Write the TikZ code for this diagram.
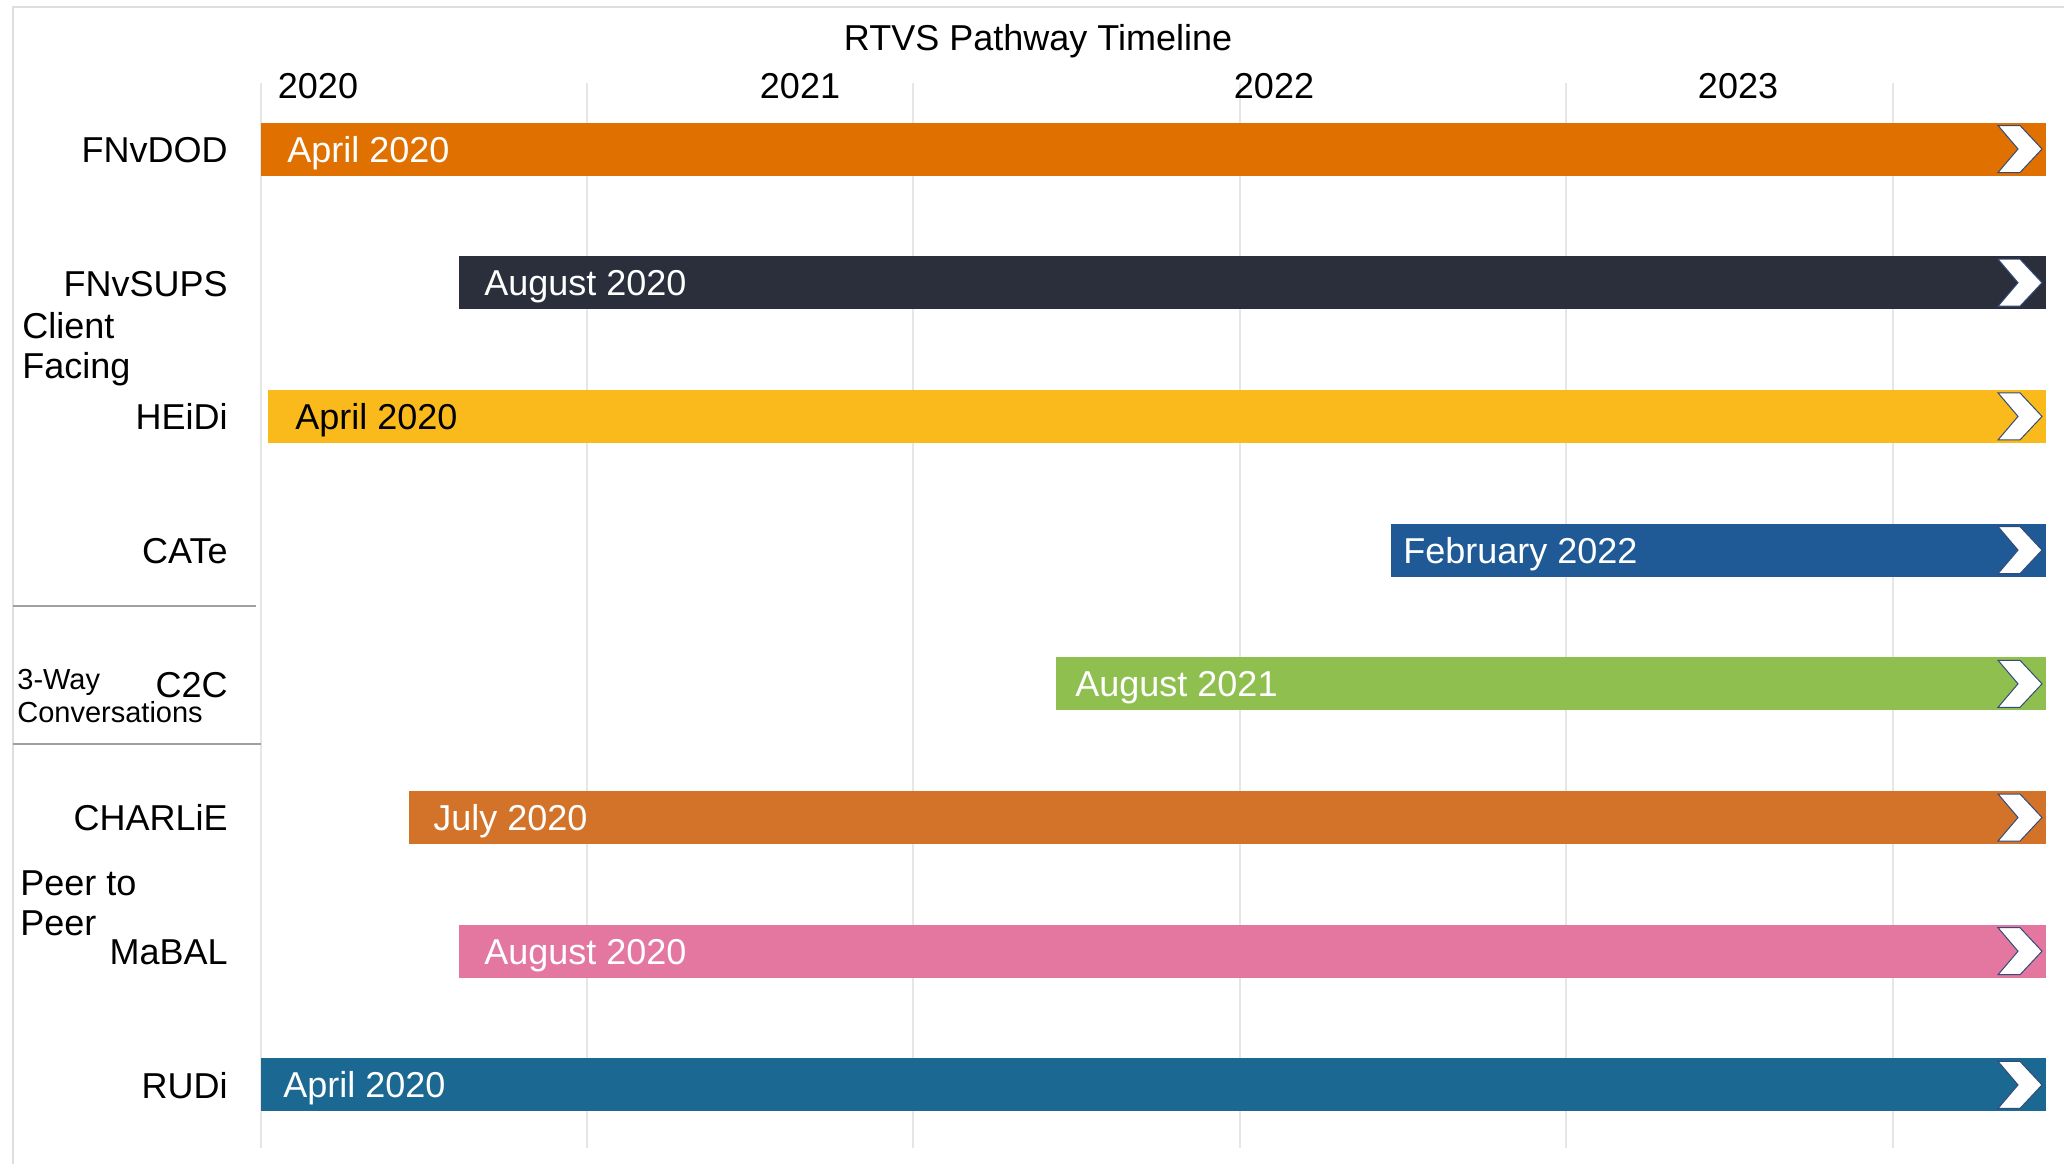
\documentclass[tikz,border=0pt]{standalone}
\usepackage{fontspec}
\setmainfont{Liberation Sans}
\definecolor{cDOD}{RGB}{224,112,0}
\definecolor{cSUPS}{RGB}{42,47,59}
\definecolor{cHEI}{RGB}{251,186,28}
\definecolor{cCAT}{RGB}{31,90,150}
\definecolor{cC2C}{RGB}{143,191,78}
\definecolor{cCHA}{RGB}{211,115,42}
\definecolor{cMAB}{RGB}{228,119,160}
\definecolor{cRUD}{RGB}{27,104,147}
\definecolor{cGrid}{RGB}{230,230,230}
\definecolor{cFrame}{RGB}{222,222,222}
\definecolor{cSep}{RGB}{160,160,160}
\definecolor{cChevLine}{RGB}{50,75,120}
\newcommand\tlchev[1]{\draw[chev] (1998,#1-23.5) -- (2020,#1-23.5) -- (2042,#1) -- (2020,#1+23.5) -- (1998,#1+23.5) -- (2018,#1) -- cycle;}
\begin{document}
\begin{tikzpicture}[x=0.5pt,y=-0.5pt,
  every node/.style={font=\fontsize{18}{22}\selectfont, inner sep=0pt},
  barbox/.style={rectangle, anchor=west, minimum height=26.5pt},
  barlabel/.style={anchor=base west, text=white},
  rowlabel/.style={anchor=base east, text=black},
  sidelabel/.style={anchor=base west, text=black},
  gridline/.style={draw=cGrid, line width=1pt},
  sepline/.style={draw=cSep, line width=1pt},
  chev/.style={fill=white, draw=cChevLine, line width=0.5pt, line join=miter}]
\useasboundingbox (0,0) rectangle (2064,1164);
% frame
\draw[cFrame, line width=1pt] (13,1164) -- (13,7) -- (2064,7);
% grid
\foreach \gx in {261,587,913,1240,1566,1893} {\draw[gridline] (\gx,83) -- (\gx,1148);}
% title and years
\node (title) at (1038,41) {RTVS Pathway Timeline};
\node[anchor=base] (y2020) at (318,98) {2020};
\node[anchor=base] (y2021) at (800,98) {2021};
\node[anchor=base] (y2022) at (1274,98) {2022};
\node[anchor=base] (y2023) at (1738,98) {2023};
% separators
\draw[sepline] (13,606) -- (256,606);
\draw[sepline] (13,744) -- (261,744);
% row labels
\node[rowlabel] (lDOD) at (228,162) {FNvDOD};
\node[rowlabel] (lSUPS) at (228,296) {FNvSUPS};
\node[rowlabel] (lHEI) at (228,429) {HEiDi};
\node[rowlabel] (lCAT) at (228,563) {CATe};
\node[rowlabel] (lC2C) at (228,697) {C2C};
\node[rowlabel] (lCHA) at (228,830) {CHARLiE};
\node[rowlabel] (lMAB) at (228,964) {MaBAL};
\node[rowlabel] (lRUD) at (228,1098) {RUDi};
\node[sidelabel] (gClient) at (22,338) {Client};
\node[sidelabel] (gFacing) at (22,378) {Facing};
\node[sidelabel, font=\fontsize{14.5}{17}\selectfont] (g3way) at (17,689) {3-Way};
\node[sidelabel, font=\fontsize{14.5}{17}\selectfont] (gConv) at (17,722) {Conversations};
\node[sidelabel] (gPeerA) at (20,895) {Peer to};
\node[sidelabel] (gPeerB) at (20,935) {Peer};
% bars
\node[barbox, fill=cDOD, minimum width={(2046-261)*0.5pt}] (bDOD) at (261,149) {};
\node[barlabel] (tDOD) at (287,162) {April 2020};
\tlchev{149}
\node[barbox, fill=cSUPS, minimum width={(2046-459)*0.5pt}] (bSUPS) at (459,282.7) {};
\node[barlabel] (tSUPS) at (484,295.7) {August 2020};
\tlchev{282.7}
\node[barbox, fill=cHEI, minimum width={(2046-268)*0.5pt}] (bHEI) at (268,416.4) {};
\node[barlabel, text=black] (tHEI) at (295,429.4) {April 2020};
\tlchev{416.4}
\node[barbox, fill=cCAT, minimum width={(2046-1391)*0.5pt}] (bCAT) at (1391,550.1) {};
\node[barlabel] (tCAT) at (1403,563.1) {February 2022};
\tlchev{550.1}
\node[barbox, fill=cC2C, minimum width={(2046-1056)*0.5pt}] (bC2C) at (1056,683.8) {};
\node[barlabel] (tC2C) at (1075,696.8) {August 2021};
\tlchev{683.8}
\node[barbox, fill=cCHA, minimum width={(2046-409)*0.5pt}] (bCHA) at (409,817.5) {};
\node[barlabel] (tCHA) at (433,830.5) {July 2020};
\tlchev{817.5}
\node[barbox, fill=cMAB, minimum width={(2046-459)*0.5pt}] (bMAB) at (459,951.2) {};
\node[barlabel] (tMAB) at (484,964.2) {August 2020};
\tlchev{951.2}
\node[barbox, fill=cRUD, minimum width={(2046-261)*0.5pt}] (bRUD) at (261,1084.9) {};
\node[barlabel] (tRUD) at (283,1097.9) {April 2020};
\tlchev{1084.9}
\end{tikzpicture}
\end{document}
